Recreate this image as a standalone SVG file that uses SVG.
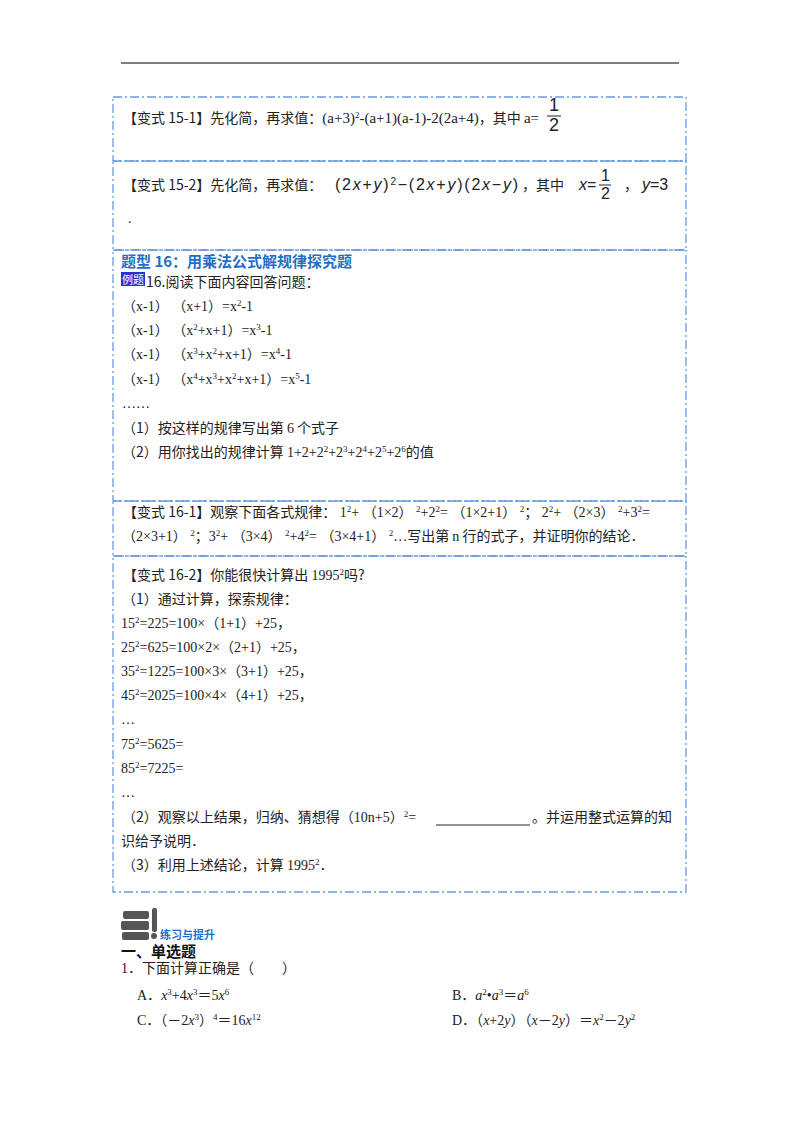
<svg xmlns="http://www.w3.org/2000/svg" width="800" height="1132" viewBox="0 0 800 1132">
<style>
text{font-family:"Liberation Serif","Noto Sans CJK SC",serif;font-size:14px;fill:#222}
.s{font-family:"Noto Sans CJK SC",sans-serif;font-size:14px}
.h{font-family:"Noto Sans CJK SC",sans-serif;font-size:15px;font-weight:bold;fill:#1f6fc5}
.p{baseline-shift:super;font-size:9px}
.i{font-style:italic}
.m{font-family:"Liberation Sans",sans-serif;font-size:16px}
.box{fill:none;stroke:#6a9be0;stroke-width:1.3;stroke-dasharray:9 3 2 3}
</style>
<rect width="800" height="1132" fill="#fff"/>
<line x1="121" y1="63" x2="679" y2="63" stroke="#000" stroke-width="1"/>
<g id="boxes">
<rect class="box" x="113" y="97" width="573" height="64"/>
<rect class="box" x="113" y="161" width="573" height="89"/>
<rect class="box" x="113" y="250" width="573" height="251"/>
<rect class="box" x="113" y="501" width="573" height="55"/>
<rect class="box" x="113" y="556" width="573" height="336"/>
</g>
<g id="v15-1">
<text x="123" y="123"><tspan class="s">【变式 15-1】先化简，再求值：</tspan><tspan style="font-size:15px">(a+3)</tspan><tspan class="p">2</tspan><tspan style="font-size:15px">-(a+1)(a-1)-2(2a+4)</tspan><tspan class="s">，其中 </tspan><tspan style="font-size:15px">a=</tspan></text>
<text x="549" y="111" class="m" style="font-size:18px">1</text>
<line x1="547" y1="116" x2="561" y2="116" stroke="#222"/>
<text x="549" y="131" class="m" style="font-size:18px">2</text>
</g>
<g id="v15-2">
<text x="123" y="190"><tspan class="s">【变式 15-2】先化简，再求值：</tspan></text>
<text x="335" y="190" class="m" textLength="183" lengthAdjust="spacing">(2<tspan class="i">x</tspan>+<tspan class="i">y</tspan>)<tspan class="p" style="font-size:10px">2</tspan>−(2<tspan class="i">x</tspan>+<tspan class="i">y</tspan>)(2<tspan class="i">x</tspan>−<tspan class="i">y</tspan>)</text>
<text x="522" y="190" class="s">，其中</text>
<text x="579" y="190" class="m"><tspan class="i">x</tspan>=</text>
<text x="601" y="181" class="m">1</text>
<line x1="599" y1="185" x2="611" y2="185" stroke="#222"/>
<text x="601" y="199" class="m">2</text>
<text x="624" y="190" class="s">，</text>
<text x="642" y="190" class="m"><tspan class="i">y</tspan>=3</text>
<text x="128" y="223">.</text>
</g>
<g id="t16">
<text x="121" y="267" class="h">题型 16：用乘法公式解规律探究题</text>
<rect x="121" y="272" width="24" height="14" fill="#2b2fd6"/>
<text x="122" y="284" class="s" style="font-size:11px;fill:#fff">例题</text>
<text x="146" y="287"><tspan class="s">16.阅读下面内容回答问题：</tspan></text>
<text x="122" y="311">（x-1） （x+1）=x<tspan class="p">2</tspan><tspan>-1</tspan></text>
<text x="122" y="335">（x-1） （x<tspan class="p">2</tspan><tspan>+x+1）=x</tspan><tspan class="p">3</tspan><tspan>-1</tspan></text>
<text x="122" y="359">（x-1） （x<tspan class="p">3</tspan><tspan>+x</tspan><tspan class="p">2</tspan><tspan>+x+1）=x</tspan><tspan class="p">4</tspan><tspan>-1</tspan></text>
<text x="122" y="384">（x-1） （x<tspan class="p">4</tspan><tspan>+x</tspan><tspan class="p">3</tspan><tspan>+x</tspan><tspan class="p">2</tspan><tspan>+x+1）=x</tspan><tspan class="p">5</tspan><tspan>-1</tspan></text>
<text x="122" y="408">……</text>
<text x="122" y="433"><tspan class="s">（1）按这样的规律写出第 </tspan>6<tspan class="s"> 个式子</tspan></text>
<text x="122" y="457"><tspan class="s">（2）用你找出的规律计算 </tspan>1+2+2<tspan class="p">2</tspan><tspan>+2</tspan><tspan class="p">3</tspan><tspan>+2</tspan><tspan class="p">4</tspan><tspan>+2</tspan><tspan class="p">5</tspan><tspan>+2</tspan><tspan class="p">6</tspan><tspan class="s">的值</tspan></text>
</g>
<g id="v16-1">
<text x="123" y="517"><tspan class="s">【变式 16-1】观察下面各式规律：</tspan> 1<tspan class="p">2</tspan><tspan>+ （1×2） </tspan><tspan class="p">2</tspan><tspan>+2</tspan><tspan class="p">2</tspan><tspan>= （1×2+1） </tspan><tspan class="p">2</tspan><tspan>； 2</tspan><tspan class="p">2</tspan><tspan>+ （2×3） </tspan><tspan class="p">2</tspan><tspan>+3</tspan><tspan class="p">2</tspan><tspan>=</tspan></text>
<text x="122" y="541">（2×3+1） <tspan class="p">2</tspan><tspan>；3</tspan><tspan class="p">2</tspan><tspan>+ （3×4） </tspan><tspan class="p">2</tspan><tspan>+4</tspan><tspan class="p">2</tspan><tspan>= （3×4+1） </tspan><tspan class="p">2</tspan><tspan>…</tspan><tspan class="s">写出第 </tspan>n<tspan class="s"> 行的式子，并证明你的结论．</tspan></text>
</g>
<g id="v16-2">
<text x="123" y="580"><tspan class="s">【变式 16-2】你能很快计算出 </tspan>1995<tspan class="p">2</tspan><tspan class="s">吗?</tspan></text>
<text x="122" y="604" class="s">（1）通过计算，探索规律：</text>
<text x="121" y="628">15<tspan class="p">2</tspan><tspan>=225=100×（1+1）+25，</tspan></text>
<text x="121" y="652">25<tspan class="p">2</tspan><tspan>=625=100×2×（2+1）+25，</tspan></text>
<text x="121" y="676">35<tspan class="p">2</tspan><tspan>=1225=100×3×（3+1）+25，</tspan></text>
<text x="121" y="700">45<tspan class="p">2</tspan><tspan>=2025=100×4×（4+1）+25，</tspan></text>
<text x="121" y="724">…</text>
<text x="121" y="749">75<tspan class="p">2</tspan><tspan>=5625=</tspan></text>
<text x="121" y="773">85<tspan class="p">2</tspan><tspan>=7225=</tspan></text>
<text x="121" y="797">…</text>
<text x="122" y="822"><tspan class="s">（2）观察以上结果，归纳、猜想得（</tspan>10n+5）<tspan class="p">2</tspan><tspan>=</tspan></text>
<line x1="436" y1="825" x2="530" y2="825" stroke="#222"/>
<text x="532" y="822" class="s">。并运用整式运算的知</text>
<text x="121" y="846" class="s">识给予说明．</text>
<text x="122" y="870"><tspan class="s">（3）利用上述结论，计算 </tspan>1995<tspan class="p">2</tspan><tspan>．</tspan></text>
</g>
<g id="practice">
<g fill="#555">
<rect x="123" y="911" width="26" height="8" rx="2"/>
<rect x="121" y="921" width="28" height="9" rx="2"/>
<rect x="122" y="932" width="27" height="8" rx="2"/>
<rect x="152" y="908" width="5" height="24" rx="2"/>
<circle cx="154" cy="936" r="3"/>
</g>
<text x="160" y="939" style="font-family:'Noto Sans CJK SC',sans-serif;font-size:11px;font-weight:bold;fill:#1f6fc5">练习与提升</text>
<text x="121" y="957" style="font-family:'Noto Sans CJK SC',sans-serif;font-size:15px;font-weight:bold;fill:#111">一、单选题</text>
<text x="121" y="973"><tspan>1．</tspan><tspan class="s">下面计算正确是（　　）</tspan></text>
<text x="137" y="1000">A．<tspan class="i">x</tspan><tspan class="p">3</tspan><tspan>+4</tspan><tspan class="i">x</tspan><tspan class="p">3</tspan><tspan>＝5</tspan><tspan class="i">x</tspan><tspan class="p">6</tspan></text>
<text x="452" y="1000">B．<tspan class="i">a</tspan><tspan class="p">2</tspan><tspan>•</tspan><tspan class="i">a</tspan><tspan class="p">3</tspan><tspan>＝</tspan><tspan class="i">a</tspan><tspan class="p">6</tspan></text>
<text x="137" y="1025">C．（－2<tspan class="i">x</tspan><tspan class="p">3</tspan><tspan>）</tspan><tspan class="p">4</tspan><tspan>＝16</tspan><tspan class="i">x</tspan><tspan class="p">12</tspan></text>
<text x="452" y="1025">D．（<tspan class="i">x</tspan>+2<tspan class="i">y</tspan>）（<tspan class="i">x</tspan>－2<tspan class="i">y</tspan>）＝<tspan class="i">x</tspan><tspan class="p">2</tspan><tspan>－2</tspan><tspan class="i">y</tspan><tspan class="p">2</tspan></text>
</g>
</svg>
